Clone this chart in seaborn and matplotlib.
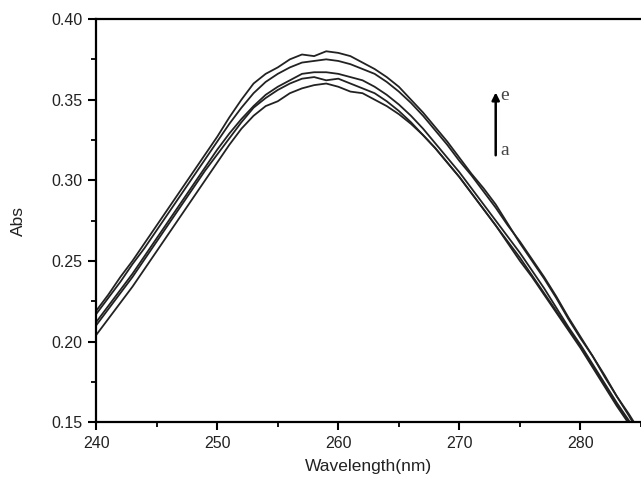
import numpy as np
import pandas as pd
import matplotlib
matplotlib.use("Agg")
import matplotlib.pyplot as plt
import seaborn as sns
from matplotlib.ticker import MultipleLocator

wavelength = list(range(240, 286))

abs_e = [0.219, 0.229, 0.240, 0.250, 0.261, 0.272, 0.283, 0.294, 0.305, 0.316,
         0.327, 0.339, 0.350, 0.360, 0.366, 0.370, 0.375, 0.378, 0.377, 0.380,
         0.379, 0.377, 0.373, 0.369, 0.364, 0.358, 0.350, 0.342, 0.333, 0.324,
         0.314, 0.304, 0.295, 0.285, 0.273, 0.261, 0.250, 0.239, 0.227, 0.214,
         0.202, 0.191, 0.178, 0.166, 0.155, 0.143]
abs_d = [0.217, 0.227, 0.237, 0.248, 0.258, 0.269, 0.280, 0.291, 0.302, 0.313,
         0.324, 0.335, 0.345, 0.354, 0.361, 0.366, 0.370, 0.373, 0.374, 0.375,
         0.374, 0.372, 0.369, 0.366, 0.361, 0.355, 0.348, 0.340, 0.331, 0.322,
         0.312, 0.303, 0.293, 0.283, 0.272, 0.262, 0.251, 0.240, 0.228, 0.215,
         0.203, 0.191, 0.179, 0.166, 0.154, 0.141]
abs_c = [0.212, 0.222, 0.232, 0.242, 0.253, 0.264, 0.275, 0.286, 0.297, 0.308,
         0.319, 0.329, 0.338, 0.346, 0.353, 0.358, 0.362, 0.366, 0.367, 0.367,
         0.366, 0.364, 0.362, 0.358, 0.353, 0.347, 0.340, 0.332, 0.323, 0.314,
         0.305, 0.295, 0.285, 0.275, 0.265, 0.255, 0.244, 0.233, 0.221, 0.209,
         0.198, 0.186, 0.174, 0.162, 0.151, 0.139]
abs_b = [0.210, 0.220, 0.230, 0.240, 0.251, 0.262, 0.273, 0.284, 0.295, 0.306,
         0.316, 0.326, 0.336, 0.345, 0.351, 0.356, 0.360, 0.363, 0.364, 0.362,
         0.363, 0.360, 0.357, 0.354, 0.349, 0.343, 0.336, 0.328, 0.320, 0.311,
         0.302, 0.292, 0.282, 0.272, 0.262, 0.252, 0.241, 0.230, 0.219, 0.208,
         0.197, 0.185, 0.173, 0.161, 0.150, 0.138]
abs_a = [0.204, 0.214, 0.224, 0.234, 0.245, 0.256, 0.267, 0.278, 0.289, 0.300,
         0.311, 0.322, 0.332, 0.340, 0.346, 0.349, 0.354, 0.357, 0.359, 0.360,
         0.358, 0.355, 0.354, 0.350, 0.346, 0.341, 0.335, 0.328, 0.320, 0.311,
         0.302, 0.292, 0.282, 0.272, 0.261, 0.250, 0.240, 0.229, 0.218, 0.207,
         0.196, 0.184, 0.172, 0.160, 0.149, 0.137]

curve_names = ["a", "b", "c", "d", "e"]
series = [abs_a, abs_b, abs_c, abs_d, abs_e]

df = pd.concat([pd.DataFrame({"Wavelength": wavelength, "Abs": s, "curve": n})
                for n, s in zip(curve_names, series)], ignore_index=True)

sns.set_style("ticks")
plt.rcParams['font.family'] = ['Liberation Sans', 'DejaVu Sans']

fig = plt.figure(figsize=(6.41, 4.88), dpi=100)
ax = fig.add_axes([0.150, 0.135, 0.850, 0.826])

sns.lineplot(data=df, x="Wavelength", y="Abs", hue="curve",
             palette=["#222222"] * 5, linewidth=1.3, legend=False, ax=ax)

ax.set_xlim(240, 285)
ax.set_ylim(0.15, 0.40)
ax.xaxis.set_major_locator(MultipleLocator(10))
ax.xaxis.set_minor_locator(MultipleLocator(5))
ax.yaxis.set_major_locator(MultipleLocator(0.05))
ax.yaxis.set_minor_locator(MultipleLocator(0.025))
ax.yaxis.set_major_formatter(matplotlib.ticker.FormatStrFormatter('%.2f'))

for side in ["left", "bottom", "top"]:
    ax.spines[side].set_visible(True)
    ax.spines[side].set_linewidth(1.6)
    ax.spines[side].set_color("black")
ax.spines["right"].set_visible(False)

ax.tick_params(axis="both", which="major", direction="out", length=6, width=1.5,
               labelsize=11.5, colors="black", labelcolor="#222222", pad=4)
ax.tick_params(axis="both", which="minor", direction="out", length=3.5, width=1.3,
               colors="black")
ax.tick_params(top=False, right=False, which="both")

ax.set_xlabel("Wavelength(nm)", fontsize=12.5, color="#222222", labelpad=6)
ax.set_ylabel("Abs", fontsize=12.5, color="#222222", labelpad=18)

ax.annotate("", xy=(273.0, 0.3545), xytext=(273.0, 0.3155),
            arrowprops=dict(arrowstyle="-|>", color="black", lw=1.8,
                            mutation_scale=11, shrinkA=0, shrinkB=0))
ax.text(273.35, 0.3525, "e", fontsize=14, family=["Liberation Serif"], color="#444444",
        va="center", ha="left")
ax.text(273.35, 0.3185, "a", fontsize=14, family=["Liberation Serif"], color="#444444",
        va="center", ha="left")

fig.savefig("out.png", dpi=100)
